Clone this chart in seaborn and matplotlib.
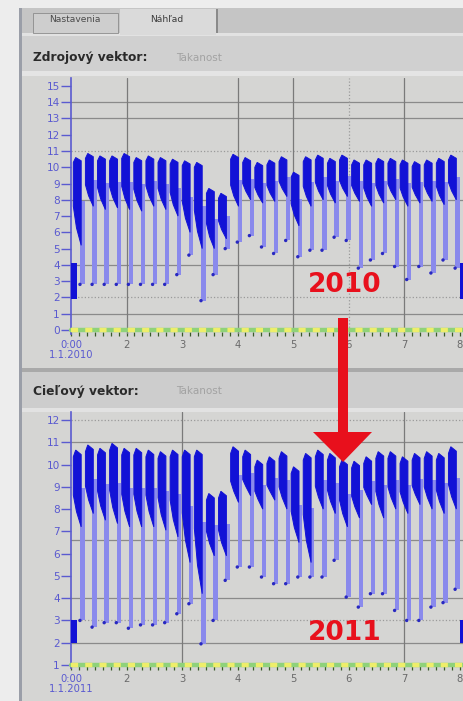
"""
Náhľad dvoch vektorov (2010 -> 2011) - rekonštrukcia screenshotu
"""
import numpy as np
import pandas as pd
import matplotlib
matplotlib.use("Agg")
import matplotlib.pyplot as plt
from matplotlib.patches import Rectangle, Polygon
import seaborn as sns

sns.set_theme(style="white")
plt.rcParams["font.family"] = ["DejaVu Sans"]

W, H = 464, 701

# ── dáta ──────────────────────────────────────────────────────────
# prvý cyklus a krok medzi cyklami (v jednotkách osi x = týždne)
first_cycle = 1.14
cycle_step = 0.218

peaks_2010 = [10.6, 10.85, 10.7, 10.7, 10.85, 10.6, 10.7, 10.6, 10.5, 10.4, 10.3, 8.7,
              8.4, 10.8, 10.6, 10.3, 10.45, 10.65, 9.7, 10.65, 10.75, 10.55, 10.75, 10.45,
              10.45, 10.55, 10.55, 10.45, 10.35, 10.45, 10.55, 10.75]
lows_2010 = [5.2, 7.6, 7.4, 7.5, 7.4, 7.3, 7.6, 7.4, 7.0, 6.0, 5.0, 5.0,
             5.6, 7.6, 8.0, 7.8, 7.9, 8.2, 6.4, 7.6, 8.0, 7.8, 8.2, 7.9,
             7.6, 7.8, 8.0, 7.6, 7.8, 7.9, 7.7, 8.0]
troughs_2010 = [2.8, 2.8, 2.8, 2.8, 2.8, 2.8, 2.8, 2.8, 3.4, 4.6, 1.8, 3.4,
                5.0, 5.4, 5.8, 5.1, 4.7, 5.5, 4.5, 4.9, 4.9, 5.7, 5.5, 3.8,
                4.3, 4.7, 3.9, 3.1, 3.9, 3.5, 4.3, 3.8]

peaks_2011 = [10.65, 10.88, 10.73, 10.95, 10.73, 10.73, 10.65, 10.58, 10.65, 10.65, 10.65, 8.7,
              8.8, 10.8, 10.65, 10.2, 10.35, 10.58, 9.9, 10.5, 10.65, 10.5, 10.2, 10.15,
              10.35, 10.58, 10.58, 10.35, 10.5, 10.58, 10.5, 10.8]
lows_2011 = [7.2, 7.8, 7.5, 7.35, 7.2, 7.2, 7.2, 7.05, 6.75, 5.6, 4.2, 5.9,
             5.9, 8.3, 8.6, 8.0, 8.4, 8.0, 6.5, 5.6, 8.0, 7.8, 7.2, 7.6,
             8.2, 7.6, 8.0, 7.8, 8.2, 8.0, 7.8, 8.0]
troughs_2011 = [3.0, 2.7, 2.9, 2.9, 2.65, 2.8, 2.8, 2.9, 3.3, 3.75, 1.95, 3.0,
                4.8, 5.4, 5.4, 4.95, 4.65, 4.65, 4.95, 4.95, 4.95, 5.7, 4.05, 3.6,
                4.2, 4.2, 3.45, 3.0, 3.0, 3.6, 3.8, 4.4]

# nízke hodnoty na začiatku a na konci okna (min, max)
edge_blob_2010 = (1.9, 4.1)
edge_blob_2011 = (2.0, 3.0)

x_ticks = [1, 2, 3, 4, 5, 6, 7, 8]
x_labels_2010 = ["0:00\n1.1.2010", "2", "3", "4", "5", "6", "7", "8"]
x_labels_2011 = ["0:00\n1.1.2011", "2", "3", "4", "5", "6", "7", "8"]
y_ticks_2010 = list(range(0, 16))
y_ticks_2011 = list(range(1, 13))

# mriežka: (hodnota, štýl)
hgrid_2010 = [(14, "-"), (13, "-"), (11, ":"), (8, "-"), (4, "-"), (2, ":"), (1, "-")]
vgrid_2010 = [(2, "-"), (4, "-"), (5, "-"), (6, ":"), (7, "-")]
hgrid_2011 = [(12, ":"), (11, "-"), (6.6, "-"), (4, "-"), (3, ":"), (2, "-")]
vgrid_2011 = [(3, "-"), (7, "-")]

DARK = "#1212d6"
LIGHT = "#8a8aec"
AXIS_BLUE = "#5a5ad0"
PANEL = "#d5d5d3"


def fx(x):
    return x / W


def fy(y):
    return 1 - y / H


def box(fig, x0, y0, x1, y1, color, z=-5, ec="none", lw=0):
    fig.add_artist(Rectangle((fx(x0), fy(y1)), fx(x1) - fx(x0), fy(y0) - fy(y1),
                             transform=fig.transFigure, facecolor=color,
                             edgecolor=ec, linewidth=lw, zorder=z))


def draw_vector(ax, peaks, lows, troughs, blob, ylim, y_ticks, x_labels, hgrid, vgrid, base):
    t = first_cycle + cycle_step * np.arange(len(peaks))
    s = cycle_step
    ax.set_facecolor(PANEL)

    for v, ls in hgrid:
        ax.axhline(v, color="#8a8a8a" if ls == "-" else "#9a9a9a", lw=0.9, ls=ls, zorder=1)
    for v, ls in vgrid:
        ax.axvline(v, color="#7a7a7a" if ls == "-" else "#9a9a9a", lw=0.9, ls=ls, zorder=1)

    for ti, p, lo, tr in zip(t, peaks, lows, troughs):
        x0, x1 = ti - 0.45 * s, ti + 0.2 * s
        mid = lo + 0.5 * (p - lo)
        # svetlý pokles (noc)
        ax.add_patch(Rectangle((x1 - 0.08 * s, tr), 0.36 * s, mid - tr,
                               facecolor=LIGHT, edgecolor="none", zorder=2))
        # tmavý blok (deň)
        w = x1 - x0
        ax.add_patch(Polygon([(x0, p - 0.3), (x0 + 0.3 * w, p), (x1, p - 0.2), (x1, lo),
                              (x0 + 0.4 * w, lo + 0.2 * (p - lo)), (x0, mid - 0.3)],
                             closed=True, facecolor=DARK, edgecolor=DARK, lw=0.7, zorder=3))

    dots = pd.DataFrame({"t": t + 0.1 * s, "v": troughs})
    sns.scatterplot(data=dots, x="t", y="v", ax=ax, color="#2828c0", s=6,
                    edgecolor="none", zorder=4, legend=False)

    # okrajové hodnoty
    for xb in (1.0, 8.0):
        ax.add_patch(Rectangle((xb, blob[0]), 0.1, blob[1] - blob[0],
                               facecolor=DARK, edgecolor="none", zorder=3))

    # základná čiara (zeleno-žltá)
    ax.axhline(base, color="#8fd27a", lw=3.2, zorder=5, clip_on=False)
    ax.axhline(base, color="#eeee6a", lw=3.2, ls=(0, (1.6, 1.6)), zorder=6, clip_on=False)

    ax.set_xlim(1.0, 8.08)
    ax.set_ylim(*ylim)
    ax.set_xlabel("")
    ax.set_ylabel("")
    ax.set_xticks(x_ticks)
    ax.set_xticklabels(x_labels, fontsize=7.2, color="#6a6a6a", linespacing=0.95)
    ax.get_xticklabels()[0].set_color(AXIS_BLUE)
    ax.set_xticks(np.arange(1, 8.1, 1 / 7), minor=True)
    ax.tick_params(axis="x", which="both", length=3, width=0.9, color="#3a5a2a",
                   direction="inout", pad=3, bottom=True)
    ax.set_yticks(y_ticks)
    ax.set_yticklabels([str(v) for v in y_ticks], fontsize=7.6, color=AXIS_BLUE)
    ax.tick_params(axis="y", length=7, width=1.0, color=AXIS_BLUE, pad=1, left=True)
    for side in ("top", "right", "bottom"):
        ax.spines[side].set_visible(False)
    ax.spines["left"].set_color(AXIS_BLUE)
    ax.spines["left"].set_linewidth(1.2)
    ax.grid(False)


fig = plt.figure(figsize=(W / 100, H / 100), dpi=100)
fig.patch.set_facecolor("#ededed")

# ── rám okna ──────────────────────────────────────────────────────
box(fig, 22, 8, W, 33, "#c5c5c5")
box(fig, 19, 8, 22, H, "#9a9ea8")
box(fig, 33, 13, 118, 33, "#cecece", z=-4, ec="#8c8c8c", lw=0.6)
box(fig, 120, 9, 216, 35, "#dadada", z=-4)
box(fig, 216, 9, 218, 33, "#8a8a8a", z=-3)
box(fig, 22, 33, W, 36, "#e2e2e2")
box(fig, 22, 36, W, 71, "#d0d0d0")
box(fig, 22, 71, W, 76, "#e4e4e4")
box(fig, 22, 76, W, 368, PANEL)
box(fig, 22, 368, W, 372, "#a9a9a9")
box(fig, 22, 372, W, 408, "#cdcdcd")
box(fig, 22, 408, W, 412, "#e2e2e2")
box(fig, 22, 412, W, H, PANEL)

fig.text(fx(75), fy(20), "Nastavenia", fontsize=6.6, color="#4a4a4a", ha="center", va="center")
fig.text(fx(167), fy(19), "Náhľad", fontsize=6.6, color="#3a3a3a", ha="center", va="center")
fig.text(fx(33), fy(58), "Zdrojový vektor:", fontsize=8.8, fontweight="bold",
         color="#2a2a2a", ha="left", va="center")
fig.text(fx(33), fy(391), "Cieľový vektor:", fontsize=8.8, fontweight="bold",
         color="#2a2a2a", ha="left", va="center")
fig.text(fx(176), fy(58), "Takanost", fontsize=7.5, color="#a2a2a2", ha="left", va="center")
fig.text(fx(176), fy(391), "Takanost", fontsize=7.5, color="#a2a2a2", ha="left", va="center")

# ── grafy ─────────────────────────────────────────────────────────
ax1 = fig.add_axes([fx(71), fy(334), fx(W) - fx(71), fy(78) - fy(334)])
draw_vector(ax1, peaks_2010, lows_2010, troughs_2010, edge_blob_2010, (-0.25, 15.49),
            y_ticks_2010, x_labels_2010, hgrid_2010, vgrid_2010, 0)

ax2 = fig.add_axes([fx(71), fy(668), fx(W) - fx(71), fy(412) - fy(668)])
draw_vector(ax2, peaks_2011, lows_2011, troughs_2011, edge_blob_2011, (0.865, 12.36),
            y_ticks_2011, x_labels_2011, hgrid_2011, vgrid_2011, 1)

# ── šípka a roky ──────────────────────────────────────────────────
RED = "#e8101c"
arrow = [(338, 318), (348, 318), (348, 432), (372, 432), (343, 462),
         (313, 432), (338, 432)]
fig.add_artist(Polygon([(fx(x), fy(y)) for x, y in arrow], closed=True,
                       transform=fig.transFigure, facecolor=RED, edgecolor="none", zorder=20))
fig.text(fx(345), fy(285), "2010", fontsize=19, fontweight="bold", color=RED,
         ha="center", va="center", zorder=21)
fig.text(fx(345), fy(633), "2011", fontsize=19, fontweight="bold", color=RED,
         ha="center", va="center", zorder=21)

fig.savefig("out.png", dpi=100)
plt.close(fig)
